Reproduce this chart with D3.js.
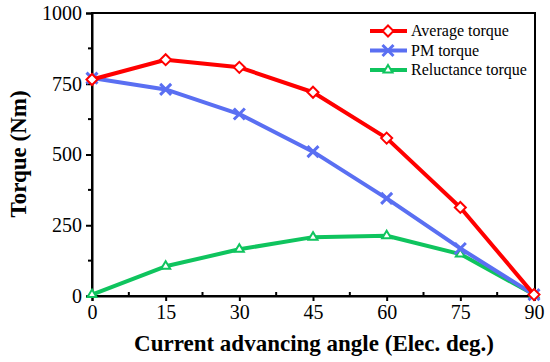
<!DOCTYPE html>
<html>
<script src="https://d3js.org/d3.v7.min.js"></script>
<body style="margin:0;background:#fff">
<svg id="chart" width="550" height="362"></svg>
<script>
// data
var angles = [0, 15, 30, 45, 60, 75, 90];
var avgTorque = [765, 835, 808, 720, 558, 313, 5];
var pmTorque = [770, 730, 643, 510, 345, 168, 5];
var relTorque = [5, 105, 165, 208, 213, 148, 5];
var xTicks = [0, 15, 30, 45, 60, 75, 90];
var yTicks = [0, 250, 500, 750, 1000];
var seriesNames = ["Average torque", "PM torque", "Reluctance torque"];

var myFont = "'Liberation Serif', 'Times New Roman', serif";
var colours = ["#ff0000", "#5a6ff2", "#0fc45e"];

var plotLeft = 92, plotRight = 535, plotTop = 13, plotBottom = 296;
var svg = d3.select("#chart");

var x = d3.scaleLinear().domain([0, 90]).range([plotLeft, plotRight - 1]);
var y = d3.scaleLinear().domain([0, 1000]).range([plotBottom, plotTop]);

// frame
svg.append("rect")
  .attr("x", plotLeft).attr("y", plotTop)
  .attr("width", plotRight - plotLeft).attr("height", plotBottom - plotTop)
  .attr("fill", "none").attr("stroke", "black").attr("stroke-width", 2);

// axes
var xAxis = svg.append("g")
  .attr("transform", "translate(0," + plotBottom + ")")
  .call(d3.axisBottom(x).tickValues(xTicks).tickSize(5).tickPadding(4).tickFormat(d3.format("d")));
var yAxis = svg.append("g")
  .attr("transform", "translate(" + plotLeft + ",0)")
  .call(d3.axisLeft(y).tickValues(yTicks).tickSize(6).tickPadding(4).tickFormat(d3.format("d")));
[xAxis, yAxis].forEach(function(g) {
  g.select(".domain").attr("stroke-width", 2);
  g.selectAll(".tick line").attr("stroke-width", 2);
  g.selectAll("text").attr("font-family", myFont).attr("font-size", 20).attr("fill", "black");
});

// minor ticks
svg.append("g").selectAll("line")
  .data([7.5, 22.5, 37.5, 52.5, 67.5, 82.5]).enter().append("line")
  .attr("x1", function(d) { return x(d); }).attr("x2", function(d) { return x(d); })
  .attr("y1", plotBottom).attr("y2", plotBottom - 4)
  .attr("stroke", "black").attr("stroke-width", 2);
svg.append("g").selectAll("line")
  .data([125, 375, 625, 875]).enter().append("line")
  .attr("x1", plotLeft).attr("x2", plotLeft - 4)
  .attr("y1", function(d) { return y(d); }).attr("y2", function(d) { return y(d); })
  .attr("stroke", "black").attr("stroke-width", 2);

// axis titles
svg.append("text")
  .attr("x", 314).attr("y", 351)
  .attr("text-anchor", "middle")
  .attr("font-family", myFont).attr("font-weight", "bold").attr("font-size", 23)
  .text("Current advancing angle (Elec. deg.)");
svg.append("text")
  .attr("transform", "translate(26," + 154 + ") rotate(-90)")
  .attr("text-anchor", "middle")
  .attr("font-family", myFont).attr("font-weight", "bold").attr("font-size", 23)
  .text("Torque (Nm)");

// markers
function drawMarker(g, kind, cx, cy, colour) {
  if (kind === 0) {
    g.append("path")
      .attr("d", "M" + cx + "," + (cy - 5.5) + "L" + (cx + 5.5) + "," + cy + "L" + cx + "," + (cy + 5.5) + "L" + (cx - 5.5) + "," + cy + "Z")
      .attr("fill", "white").attr("stroke", colour).attr("stroke-width", 2);
  } else if (kind === 1) {
    g.append("path")
      .attr("d", "M" + (cx - 5.5) + "," + (cy - 5.5) + "L" + (cx + 5.5) + "," + (cy + 5.5) + "M" + (cx - 5.5) + "," + (cy + 5.5) + "L" + (cx + 5.5) + "," + (cy - 5.5))
      .attr("stroke", colour).attr("stroke-width", 3);
  } else {
    g.append("path")
      .attr("d", "M" + cx + "," + (cy - 5) + "L" + (cx + 4.5) + "," + (cy + 2.5) + "L" + (cx - 4.5) + "," + (cy + 2.5) + "Z")
      .attr("fill", "white").attr("stroke", colour).attr("stroke-width", 2);
  }
}

var line = d3.line().x(function(d) { return x(d[0]); }).y(function(d) { return y(d[1]); });
var allSeries = [avgTorque, pmTorque, relTorque];

// draw in reverse so red is on top
[2, 1, 0].forEach(function(k) {
  var pts = angles.map(function(a, i) { return [a, allSeries[k][i]]; });
  var g = svg.append("g");
  g.append("path").datum(pts).attr("d", line)
    .attr("fill", "none").attr("stroke", colours[k]).attr("stroke-width", 4)
    .attr("stroke-linejoin", "round");
  pts.forEach(function(p) { drawMarker(g, k, x(p[0]), y(p[1]), colours[k]); });
});

// legend
seriesNames.forEach(function(name, k) {
  var ly = 31 + k * 19.5;
  var g = svg.append("g");
  g.append("line").attr("x1", 370).attr("x2", 407).attr("y1", ly).attr("y2", ly)
    .attr("stroke", colours[k]).attr("stroke-width", 4);
  drawMarker(g, k, 388, ly, colours[k]);
  g.append("text").attr("x", 411).attr("y", ly + 5)
    .attr("font-family", myFont).attr("font-size", 16).text(name);
});
</script>
</body>
</html>
